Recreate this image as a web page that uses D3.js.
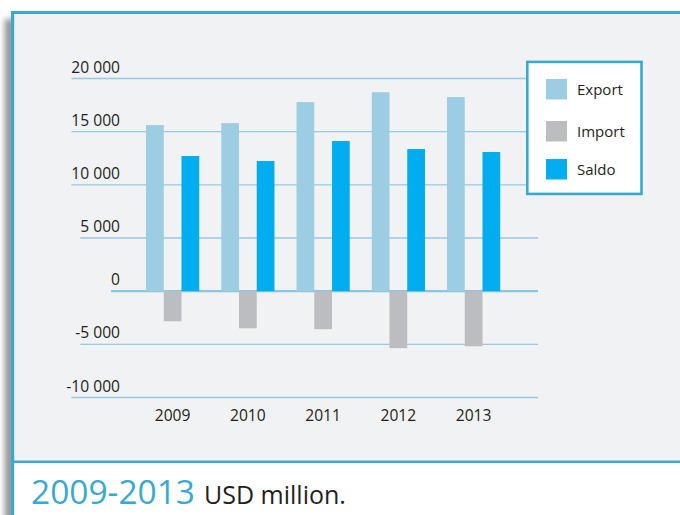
<!DOCTYPE html>
<html>
<head>
<meta charset="utf-8">
<script src="https://cdn.jsdelivr.net/npm/d3@7"></script>
<style>
  html, body { margin: 0; padding: 0; background: #ffffff; }
  svg { display: block; }
  text { font-family: "Open Sans", "Noto Sans", sans-serif; }
</style>
</head>
<body>
<script>
// Foreign trade, USD million
const years = ["2009", "2010", "2011", "2012", "2013"];
const seriesNames = ["Export", "Import", "Saldo"];
const exportValues = [15620, 15800, 17780, 18710, 18250];
const importValues = [-2830, -3490, -3580, -5360, -5180];
const saldoValues  = [12710, 12240, 14120, 13370, 13090];
const yTicks = [20000, 15000, 10000, 5000, 0, -5000, -10000];
const captionYears = "2009-2013";
const captionUnit = "USD million.";

const colors = { Export: "#9dcde3", Import: "#bcbdc1", Saldo: "#00aeef" };
const accent = "#3aa9d2";
const textColor = "#231f20";

const W = 680, H = 515;
const svg = d3.select("body").append("svg").attr("width", W).attr("height", H);

// soft shadow on the left side of the panel
const defs = svg.append("defs");
defs.append("filter").attr("id", "shade").attr("x", "-100%").attr("width", "300%")
  .append("feGaussianBlur").attr("stdDeviation", 3.2);
defs.append("clipPath").attr("id", "shadeClip")
  .append("rect").attr("x", 0).attr("y", 0).attr("width", 12).attr("height", H);
svg.append("g").attr("clip-path", "url(#shadeClip)")
  .append("rect").attr("x", 5).attr("y", 19).attr("width", 9).attr("height", H + 20)
  .attr("fill", "#8a8a8a").attr("filter", "url(#shade)");

// panel
svg.append("rect").attr("x", 12.5).attr("y", 12.5).attr("width", W).attr("height", 449)
  .attr("fill", "#f1f2f4");
svg.append("rect").attr("x", 12.5).attr("y", 461.5).attr("width", W).attr("height", 60)
  .attr("fill", "#ffffff");
// borders
svg.append("line").attr("x1", 11).attr("x2", W).attr("y1", 12.5).attr("y2", 12.5)
  .attr("stroke", accent).attr("stroke-width", 3);
svg.append("line").attr("x1", 12.6).attr("x2", 12.6).attr("y1", 11).attr("y2", H)
  .attr("stroke", accent).attr("stroke-width", 3.2);
svg.append("line").attr("x1", 11).attr("x2", W).attr("y1", 461.8).attr("y2", 461.8)
  .attr("stroke", accent).attr("stroke-width", 2.6);

// scales
const y = d3.scaleLinear().domain([-10000, 20000]).range([397.5, 78.5]);
const x = d3.scaleBand().domain(years).range([135, 511.25])
  .paddingInner(0.293).paddingOuter(0.1465);
const xs = d3.scaleBand().domain(seriesNames).range([0, x.bandwidth()]);

const absText = v => d3.format(",")(Math.abs(v)).replace(/,/g, " ");
const labelText = v => (v < 0 ? "-" : "") + absText(v);
const labelRight = 120;
const gridRight = 538;
const axisFont = 15.6;

// gridlines and value labels
const grid = svg.append("g");
yTicks.forEach(v => {
  grid.append("text")
    .attr("x", labelRight).attr("y", y(v) - 6)
    .attr("text-anchor", "end")
    .attr("font-size", axisFont).attr("fill", textColor)
    .text(labelText(v));
  // the rule begins under the first digit of the label
  const probe = grid.append("text").attr("font-size", axisFont).text(absText(v));
  const w = probe.node().getComputedTextLength();
  probe.remove();
  grid.append("line")
    .attr("x1", labelRight - w).attr("x2", gridRight)
    .attr("y1", y(v)).attr("y2", y(v))
    .attr("stroke", v === 0 ? "#8cc6de" : "#93cbe2")
    .attr("stroke-width", v === 0 ? 2.4 : 1.4);
});

// bars
const rows = years.map((yr, i) => ({
  year: yr,
  values: { Export: exportValues[i], Import: importValues[i], Saldo: saldoValues[i] }
}));
const groups = svg.append("g").selectAll("g").data(rows).join("g")
  .attr("transform", d => `translate(${x(d.year)},0)`);
groups.selectAll("rect")
  .data(d => seriesNames.map(s => ({ s, v: d.values[s] })))
  .join("rect")
  .attr("x", d => xs(d.s))
  .attr("width", xs.bandwidth())
  .attr("y", d => y(Math.max(0, d.v)))
  .attr("height", d => Math.abs(y(d.v) - y(0)))
  .attr("fill", d => colors[d.s]);

// year labels
svg.append("g").selectAll("text").data(years).join("text")
  .attr("x", d => x(d) + x.bandwidth() / 2)
  .attr("y", 421)
  .attr("text-anchor", "middle")
  .attr("font-size", axisFont).attr("fill", textColor)
  .text(d => d);

// legend
const lg = svg.append("g");
lg.append("rect").attr("x", 527.3).attr("y", 61.9).attr("width", 114.2).attr("height", 132)
  .attr("fill", "#ffffff").attr("stroke", accent).attr("stroke-width", 2.6);
const legendY = [79, 121, 159];
seriesNames.forEach((s, i) => {
  lg.append("rect").attr("x", 546).attr("y", legendY[i]).attr("width", 21).attr("height", 20.5)
    .attr("fill", colors[s]);
  lg.append("text").attr("x", 577).attr("y", legendY[i] + 16)
    .attr("font-size", 15).attr("fill", textColor).text(s);
});

// caption
const cap = svg.append("text").attr("x", 31).attr("y", 504);
cap.append("tspan").attr("font-size", 33.5).attr("fill", accent).text(captionYears);
cap.append("tspan").attr("font-size", 25).attr("fill", textColor).attr("dx", 9).text(captionUnit);
</script>
</body>
</html>
